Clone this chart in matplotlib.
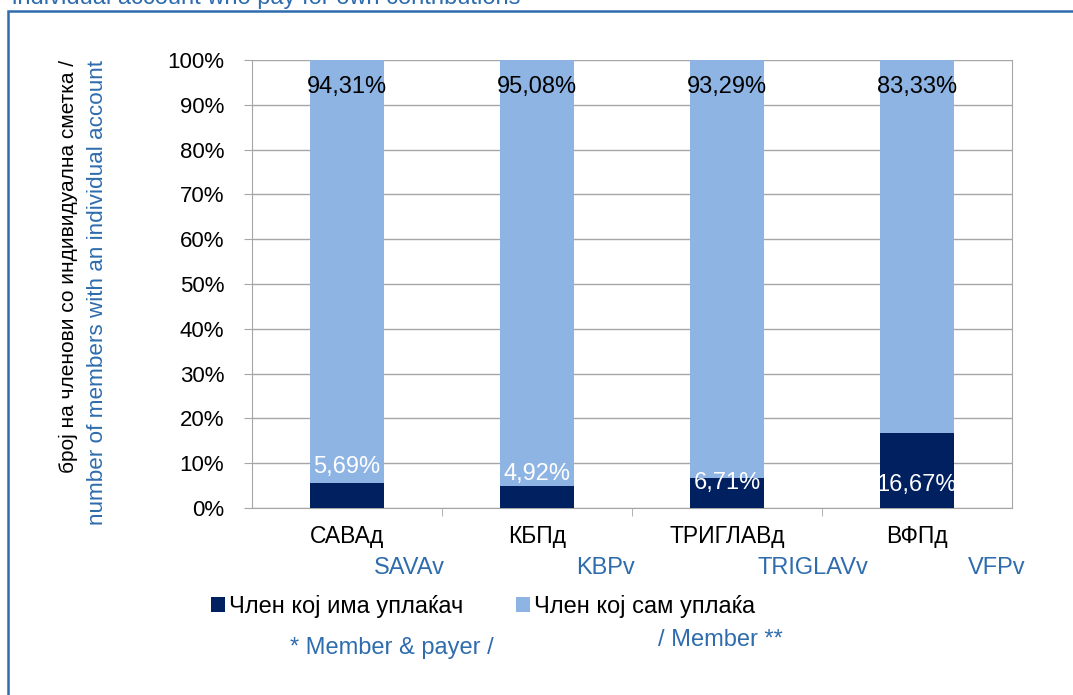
import matplotlib
matplotlib.use("Agg")
import numpy as np
from matplotlib import pyplot as plt
from matplotlib.patches import Patch, Rectangle

plt.rcParams['font.family'] = ['Liberation Sans', 'DejaVu Sans']

# data
funds_mk = ['САВАд', 'КБПд', 'ТРИГЛАВд', 'ВФПд']
funds_en = ['SAVAv', 'KBPv', 'TRIGLAVv', 'VFPv']
with_payer = [5.69, 4.92, 6.71, 16.67]
self_payer = [94.31, 95.08, 93.29, 83.33]
series_names = ['Член кој има уплаќач', 'Член кој сам уплаќа']
y_ticks = [0, 10, 20, 30, 40, 50, 60, 70, 80, 90, 100]

# layout (label placement as in the original)
low_label_y = [9.2, 7.6, 5.6, 5.1]
top_label_y = 94.0
en_label_dx = [0.33, 0.36, 0.45, 0.42]

DARK = '#002060'
LIGHT = '#8EB4E3'
BLUE = '#2E6CAD'
GRID = '#A6A6A6'
W, H = 1073, 695

fig = plt.figure(figsize=(W / 100, H / 100), dpi=100)
ax = fig.add_axes([252 / W, (H - 508) / H, 760 / W, 448 / H])

x = np.arange(len(funds_mk))
ax.bar(x, with_payer, width=0.385, color=DARK, zorder=3)
ax.bar(x, self_payer, width=0.385, bottom=with_payer, color=LIGHT, zorder=3)

for i in x:
    ax.text(i, top_label_y, f'{self_payer[i]:.2f}%'.replace('.', ','),
            ha='center', va='center', fontsize=17, color='black', zorder=4)
    ax.text(i, low_label_y[i], f'{with_payer[i]:.2f}%'.replace('.', ','),
            ha='center', va='center', fontsize=17, color='white', zorder=4)
    ax.text(i + en_label_dx[i], -13.4, funds_en[i], ha='center', va='center',
            fontsize=17, color=BLUE)

ax.set_xlim(-0.5, 3.5)
ax.set_ylim(0, 100)
ax.set_yticks(y_ticks)
ax.set_yticklabels([f'{t}%' for t in y_ticks], fontsize=16)
ax.set_xticks(x)
ax.set_xticklabels(funds_mk, fontsize=16.5)
ax.set_xticks([0.5, 1.5, 2.5], minor=True)
ax.tick_params(axis='x', which='major', length=0, pad=12)
ax.tick_params(axis='x', which='minor', length=6, color=GRID)
ax.tick_params(axis='y', length=6, color=GRID, pad=14)
ax.yaxis.grid(True, color=GRID, linewidth=1, zorder=0)
for side in ['left', 'bottom', 'right']:
    ax.spines[side].set_color(GRID)
ax.spines['top'].set_visible(False)

# y-axis titles, two languages
fig.text(68 / W, 1 - 60 / H, 'број на членови со индивидуална сметка /', rotation=90,
         ha='center', va='top', fontsize=15, color='black')
fig.text(98 / W, 1 - 60 / H, 'number of members with an individual account', rotation=90,
         ha='center', va='top', fontsize=16.2, color=BLUE)

# legend
handles = [Patch(facecolor=DARK), Patch(facecolor=LIGHT)]
fig.legend(handles, series_names, ncol=2, loc='center left', bbox_to_anchor=(194 / W, 1 - 606 / H),
           frameon=False, fontsize=17, handlelength=0.6, handleheight=0.6, handletextpad=0.2,
           columnspacing=2.2, borderpad=0.2)
fig.text(392 / W, 1 - 648 / H, '* Member & payer /', ha='center', va='center', fontsize=17, color=BLUE)
fig.text(720 / W, 1 - 640 / H, '/ Member **', ha='center', va='center', fontsize=17, color=BLUE)

# title (cut off at top) and frame
fig.text(12 / W, 1 - 4 / H, 'individual account who pay for own contributions', ha='left',
         va='baseline', fontsize=17, color=BLUE)
fig.patches.append(Rectangle((8 / W, -0.05), 1.1, 1 - 11 / H + 0.05, transform=fig.transFigure,
                             fill=False, edgecolor=BLUE, linewidth=1.8))

fig.savefig('out.png', dpi=100)
